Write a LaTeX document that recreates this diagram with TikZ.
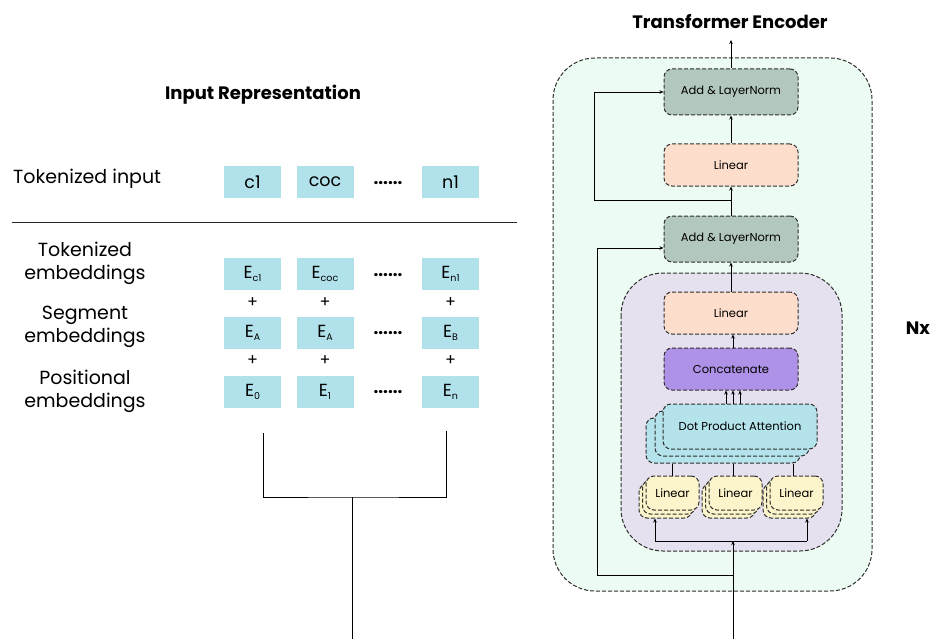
\documentclass[tikz,border=0pt]{standalone}
\usepackage{fontspec}
\setmainfont{Poppins}
\usetikzlibrary{arrows.meta}
\definecolor{tokblue}{HTML}{B1E2EB}
\definecolor{mint}{HTML}{ECFCF2}
\definecolor{lavender}{HTML}{E6E1EF}
\definecolor{normgreen}{HTML}{B3C8BC}
\definecolor{peach}{HTML}{FDDDCB}
\definecolor{concatpurple}{HTML}{AE92E7}
\definecolor{attnblue}{HTML}{B4E3EC}
\definecolor{linyellow}{HTML}{FCF4CA}
\definecolor{edge}{HTML}{2E2E2E}
\newcommand\sbs[1]{\raisebox{-0.3ex}{\fontsize{9.5}{9.5}\selectfont #1}}
\tikzset{
  dashbox/.style={draw=edge, line width=1pt, dash pattern=on 4pt off 2pt,
    rounded corners=8pt, inner sep=0pt, font=\fontsize{11.5}{13}\selectfont},
  container/.style={draw=edge, line width=1pt, dash pattern=on 4pt off 2pt,
    rounded corners=42pt},
  tok/.style={fill=tokblue, minimum width=57pt, minimum height=32pt, inner sep=0pt,
    font=\fontsize{17.5}{19}\selectfont},
  dots/.style={font=\fontsize{17}{18}\selectfont\bfseries, inner sep=0pt},
  plus/.style={font=\fontsize{16}{17}\selectfont, inner sep=0pt},
  lbl/.style={font=\fontsize{19}{23}\selectfont, align=center, inner sep=0pt},
  ttl/.style={font=\fontsize{18}{20}\selectfont\bfseries, inner sep=0pt},
  arr/.style={draw=black, line width=0.9pt, -{Stealth[length=4pt,width=3.5pt]}},
  ln/.style={draw=black, line width=0.9pt},
  addnorm/.style={dashbox, fill=normgreen, minimum width=134pt, minimum height=46pt},
  linbig/.style={dashbox, fill=peach, minimum width=134pt, minimum height=42pt},
  concat/.style={dashbox, fill=concatpurple, minimum width=134pt, minimum height=42pt},
  attn/.style={dashbox, fill=attnblue, minimum width=154pt, minimum height=45pt},
  linsmall/.style={dashbox, fill=linyellow, minimum width=53pt, minimum height=34pt}
}
\begin{document}
\begin{tikzpicture}[x=1pt,y=-1pt]
\useasboundingbox (0,0) rectangle (933,639);

% ---------- input representation ----------
\node[ttl] (inrep) at (263,95) {Input Representation};

\node[lbl, anchor=west] (tokin) at (13,179) {Tokenized input};
\node[tok] (t1) at (252.5,182) {c1};
\node[tok] (t2) at (325,182) {coc};
\node[dots] (td) at (388,183) {......};
\node[tok] (t3) at (450.5,182) {n1};

\coordinate (sepL) at (12,222);
\coordinate (sepR) at (517,222);
\draw[line width=1pt, draw=black!85] (sepL) -- (sepR);

\node[lbl] (lab1) at (85,263) {Tokenized\\embeddings};
\node[lbl] (lab2) at (85,327) {Segment\\embeddings};
\node[lbl] (lab3) at (85,391) {Positional\\embeddings};

\node[tok] (e11) at (252.5,274) {E\sbs{c1}};
\node[tok] (e12) at (325,274) {E\sbs{coc}};
\node[dots] (e1d) at (388,275) {......};
\node[tok] (e13) at (450.5,274) {E\sbs{n1}};

\node[plus] (p11) at (252.5,303) {+};
\node[plus] (p12) at (325,303) {+};
\node[plus] (p13) at (450.5,303) {+};

\node[tok] (e21) at (252.5,332.5) {E\sbs{A}};
\node[tok] (e22) at (325,332.5) {E\sbs{A}};
\node[dots] (e2d) at (388,333) {......};
\node[tok] (e23) at (450.5,332.5) {E\sbs{B}};

\node[plus] (p21) at (252.5,361) {+};
\node[plus] (p22) at (325,361) {+};
\node[plus] (p23) at (450.5,361) {+};

\node[tok] (e31) at (252.5,391.5) {E\sbs{0}};
\node[tok] (e32) at (325,391.5) {E\sbs{1}};
\node[dots] (e3d) at (388,392) {......};
\node[tok] (e33) at (450.5,391.5) {E\sbs{n}};

% bracket joining the embeddings into one stream
\coordinate (brL) at (263,433);
\coordinate (brR) at (446,431);
\coordinate (brM) at (352,497);
\coordinate (brOut) at (352,639);
\draw[ln] (brL) |- (brM) -| (brR);
\draw[ln] (brM) -- (brOut);

% ---------- transformer encoder ----------
\node[ttl] (enc) at (730,22) {Transformer Encoder};
\node[ttl] (nx) at (918,328) {Nx};

\draw[container, fill=mint] (553,58) rectangle (872,591);
\draw[container, fill=lavender] (621,273) rectangle (842,551);

\node[addnorm] (an1) at (731,92) {Add \& LayerNorm};
\node[linbig] (lin1) at (731,165) {Linear};
\node[addnorm] (an2) at (731,239) {Add \& LayerNorm};
\node[linbig] (lin2) at (731,313) {Linear};
\node[concat] (cat) at (731,369) {Concatenate};

% stacked attention heads
\node[attn] (dpa3) at (723,440.5) {};
\node[attn] (dpa2) at (732,433.5) {};
\node[attn] (dpa) at (740,426.5) {Dot Product Attention};

% stacked projections
\foreach \n/\cx in {q/672.5, k/735.5, v/796.5} {
  \node[linsmall] (\n3) at (\cx-7,501) {};
  \node[linsmall] (\n2) at (\cx-3.5,497) {};
  \node[linsmall] (\n1) at (\cx,493) {Linear};
}

% connectors of the encoder block
\coordinate (encout) at (731,40);
\draw[arr] (an1.north) -- (encout);
\draw[arr] (lin1.north) -- (an1.south);
\coordinate (res1) at (731,200);
\draw[arr] (an2.north) -- (lin1.south);
\coordinate (bend1) at (594,92);
\draw[arr] (res1) -| (bend1) -- (an1.west);
\draw[arr] (lin2.north) -- (an2.south);
\coordinate (c0) at (733,0);
\draw[arr] (c0 |- cat.north) -- (c0 |- lin2.south);

% heads into the concatenation
\foreach \i/\xx in {1/726, 2/733, 3/740} {
  \coordinate (h\i) at (\xx,0);
  \draw[arr] (h\i |- dpa.north) -- (h\i |- cat.south);
}
% projections into the heads
\foreach \n/\xx in {q/672, k/733, v/793} {
  \coordinate (g\n) at (\xx,0);
  \draw[ln] (g\n |- dpa3.south) -- (g\n |- \n1.north);
}

% input stream and its split into the projections
\coordinate (inB) at (733,639);
\coordinate (split) at (733,541);
\coordinate (spL) at (655,541);
\coordinate (spR) at (807,541);
\draw[arr] (inB) -- (split);
\draw[ln] (spL) -- (spR);
\draw[arr] (spL) -- (spL |- q3.south);
\draw[arr] (spR) -- (spR |- v3.south);
\coordinate (res2) at (733,575);
\coordinate (bend2) at (597,248);
\draw[arr] (res2) -| (bend2) -- (bend2 -| an2.west);
\end{tikzpicture}
\end{document}
